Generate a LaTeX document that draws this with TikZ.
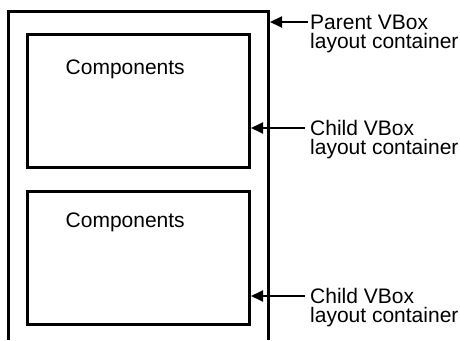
\documentclass[tikz,border=0pt]{standalone}
\usepackage{fontspec}
\setmainfont{Liberation Sans}
\usetikzlibrary{arrows.meta}
\tikzset{
  vbox/.style={draw,line width=3pt,
               minimum width=222.5pt,minimum height=133pt,
               inner sep=0pt},
  comp/.style={anchor=base west,inner sep=0pt,
               font=\fontsize{21}{19}\selectfont},
  callout/.style={anchor=base west,align=left,inner sep=0pt,
                  font=\fontsize{21}{19}\selectfont},
  pointer/.style={-{Triangle[length=12pt,width=11pt]},line width=2pt}
}
\begin{document}
\begin{tikzpicture}[x=1pt,y=1pt]
  \useasboundingbox (0,0) rectangle (460,340);
  % parent container, open at the bottom
  \draw[line width=3pt]
    (8.5,0) -- (8.5,328.5) -- (268.5,328.5) -- (268.5,0);
  \coordinate (parent) at (270,318);
  % child containers
  \node[vbox] (child1) at (138.25,239) {};
  \node[vbox] (child2) at (138.25,81.75) {};
  \node[comp] (comp1) at (65.5,265.5) {Components};
  \node[comp] (comp2) at (65.5,112.5) {Components};
  % callouts (base = last line)
  \node[callout] (ptext) at (310,291.5)
    {Parent VBox\\layout container};
  \node[callout] (c1text) at (310,185.5)
    {Child VBox\\layout container};
  \node[callout] (c2text) at (310,18)
    {Child VBox\\layout container};
  \coordinate (ptail) at (308,318);
  \coordinate (c1tail) at (305,212);
  \coordinate (c2tail) at (305,44);
  \draw[pointer] (ptail) -- (parent);
  \draw[pointer] (c1tail) -- (c1tail -| child1.east);
  \draw[pointer] (c2tail) -- (c2tail -| child2.east);
\end{tikzpicture}
\end{document}
